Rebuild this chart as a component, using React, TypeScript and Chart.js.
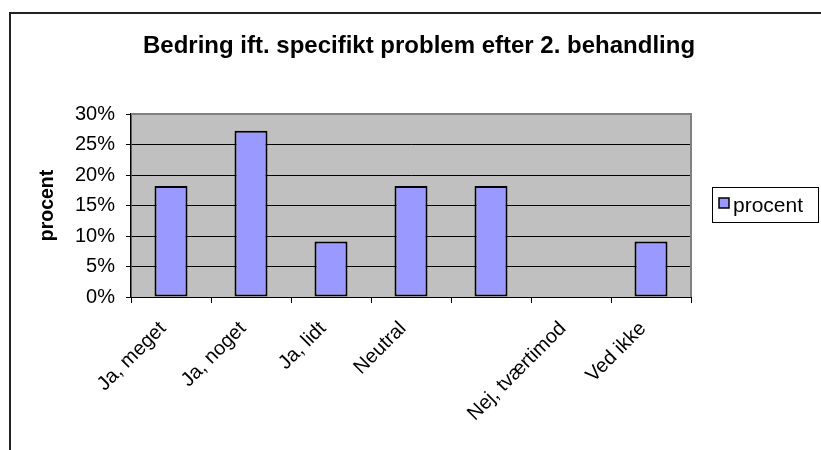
import React, { useEffect, useRef } from "react";
import { Chart, registerables } from "chart.js";

Chart.register(...registerables);

const TITLE = "Bedring ift. specifikt problem efter 2. behandling";
const CATEGORIES = ["Ja, meget", "Ja, noget", "Ja, lidt", "Neutral", "", "Nej, tværtimod", "Ved ikke"];
const PROCENT = [18.18, 27.27, 9.09, 18.18, 18.18, 0, 9.09];
const SERIES_NAME = "procent";
const Y_TITLE = "procent";
const Y_MIN = 0;
const Y_MAX = 30;
const Y_STEP = 5;

const FONT = '"Liberation Sans", Arial, Helvetica, sans-serif';
const W = 821;
const H = 450;

const decor = {
  id: "decor",
  beforeDraw(chart: any) {
    const { ctx, chartArea: a, width, height } = chart;
    ctx.save();
    ctx.fillStyle = "#ffffff";
    ctx.fillRect(0, 0, width, height);
    ctx.fillStyle = "#C0C0C0";
    ctx.fillRect(a.left, a.top, a.right - a.left, a.bottom - a.top);
    ctx.strokeStyle = "#222222";
    ctx.lineWidth = 2;
    ctx.beginPath();
    ctx.moveTo(10, height);
    ctx.lineTo(10, 13);
    ctx.lineTo(width, 13);
    ctx.stroke();
    ctx.restore();
  },
  afterDraw(chart: any) {
    const { ctx, chartArea: a } = chart;
    ctx.save();
    ctx.strokeStyle = "#808080";
    ctx.lineWidth = 2;
    ctx.beginPath();
    ctx.moveTo(a.left, a.top);
    ctx.lineTo(a.right, a.top);
    ctx.lineTo(a.right, a.bottom);
    ctx.stroke();

    ctx.fillStyle = "#000";
    ctx.font = `bold 24px ${FONT}`;
    ctx.textAlign = "center";
    ctx.textBaseline = "alphabetic";
    ctx.fillText(TITLE, 419, 53);

    const ds = chart.data.datasets[0];
    ctx.lineWidth = 1;
    ctx.strokeStyle = "#000";
    ctx.strokeRect(712.5, 187.5, 106, 35);
    ctx.fillStyle = ds.backgroundColor;
    ctx.fillRect(719, 198, 10, 10);
    ctx.lineWidth = 1.5;
    ctx.strokeRect(719, 198, 10, 10);
    ctx.fillStyle = "#000";
    ctx.font = `21px ${FONT}`;
    ctx.textAlign = "left";
    ctx.fillText(ds.label, 733, 212);
    ctx.restore();
  },
};

export default function App() {
  const ref = useRef<HTMLCanvasElement | null>(null);

  useEffect(() => {
    if (!ref.current) return;
    const chart = new Chart(ref.current, {
      type: "bar",
      data: {
        labels: CATEGORIES,
        datasets: [
          {
            label: SERIES_NAME,
            data: PROCENT,
            backgroundColor: "#9999FF",
            borderColor: "#000000",
            borderWidth: 2,
            borderSkipped: false,
            categoryPercentage: 1,
            barPercentage: 0.4125,
          },
        ],
      },
      options: {
        animation: false,
        responsive: false,
        devicePixelRatio: 1,
        layout: { padding: { left: 0, top: 114, right: 130, bottom: 0 } },
        plugins: {
          legend: { display: false },
          title: { display: false },
          tooltip: { enabled: false },
        },
        scales: {
          x: {
            afterFit: (s: any) => {
              s.height = 153;
            },
            grid: {
              display: true,
              drawOnChartArea: false,
              offset: true,
              tickLength: 6,
              tickColor: "#000",
            },
            border: { color: "#000", width: 1 },
            ticks: {
              autoSkip: false,
              maxRotation: 45,
              minRotation: 45,
              padding: 14,
              labelOffset: -8,
              color: "#000",
              font: { family: FONT, size: 20 },
            },
          },
          y: {
            min: Y_MIN,
            max: Y_MAX,
            afterFit: (s: any) => {
              s.width = 131;
            },
            grid: {
              color: (c: any) => (c.tick && c.tick.value === Y_MAX ? "#808080" : "#000"),
              tickColor: "#000",
              tickLength: 5,
              lineWidth: 1,
            },
            border: { color: "#000", width: 1.5 },
            ticks: {
              stepSize: Y_STEP,
              padding: 11,
              color: "#000",
              font: { family: FONT, size: 20 },
              callback: (v: any) => `${v}%`,
            },
            title: {
              display: true,
              text: Y_TITLE,
              color: "#000",
              font: { family: FONT, size: 19.5, weight: "bold" },
              padding: { top: 36, bottom: 0 },
            },
          },
        },
      },
      plugins: [decor],
    });
    return () => chart.destroy();
  }, []);

  return (
    <div style={{ position: "absolute", left: 0, top: 0, width: W, height: H, background: "#fff" }}>
      <canvas ref={ref} width={W} height={H} style={{ display: "block", width: W, height: H }} />
    </div>
  );
}
